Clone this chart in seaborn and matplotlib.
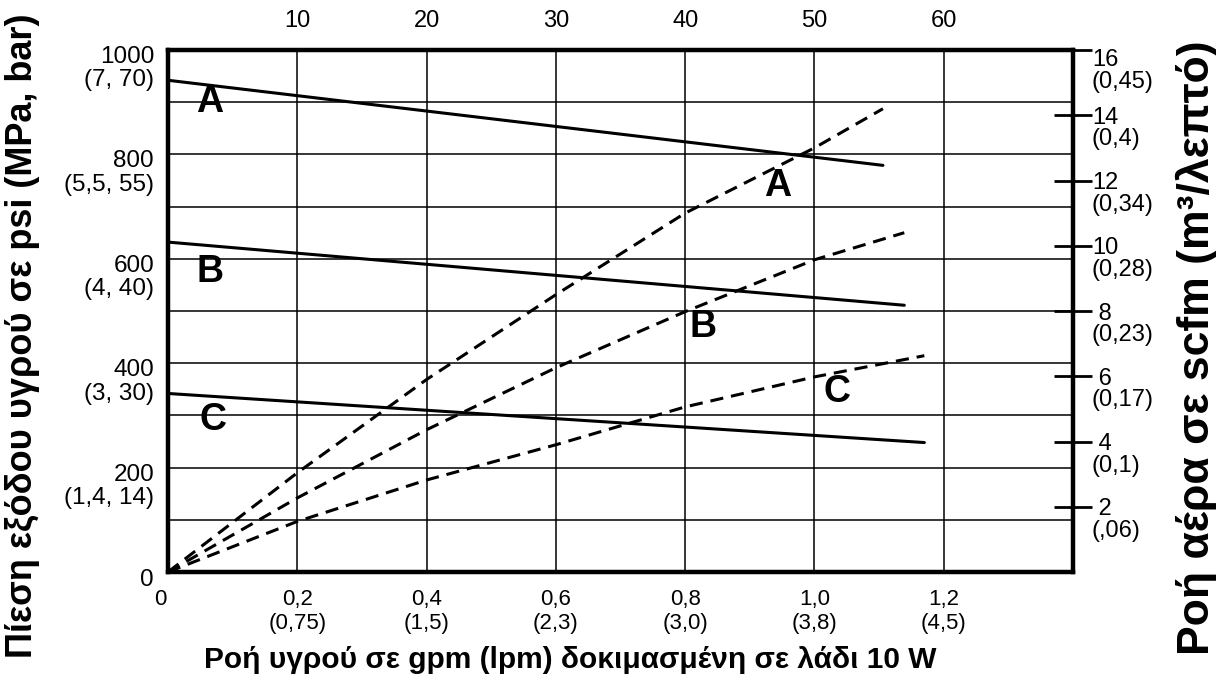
import matplotlib
matplotlib.use("Agg")
import matplotlib.pyplot as plt
import matplotlib.transforms as mtransforms
import seaborn as sns

# Fluid outlet pressure (psi) against fluid flow (gpm) -- solid lines
psi_gpm_A = [0.0, 1.106]
psi_A = [942, 779]
psi_gpm_B = [0.0, 1.139]
psi_B = [632, 511]
psi_gpm_C = [0.0, 1.170]
psi_C = [342, 248]

# Air consumption (scfm) against fluid flow (gpm) -- dashed lines
air_gpm_A = [0.0, 0.2, 0.4, 0.6, 0.8, 1.0, 1.106]
air_A = [0.0, 3.04, 5.9, 8.5, 11.0, 13.0, 14.2]
air_gpm_B = [0.0, 0.2, 0.4, 0.6, 0.8, 1.0, 1.139]
air_B = [0.0, 2.27, 4.36, 6.26, 7.98, 9.57, 10.4]
air_gpm_C = [0.0, 0.2, 0.4, 0.6, 0.8, 1.0, 1.170]
air_C = [0.0, 1.55, 2.82, 3.9, 5.06, 5.98, 6.63]

# Axis ticks and labels
gpm_ticks = [0, 0.2, 0.4, 0.6, 0.8, 1.0, 1.2]
gpm_labels = ["0", "0,2\n(0,75)", "0,4\n(1,5)", "0,6\n(2,3)", "0,8\n(3,0)",
              "1,0\n(3,8)", "1,2\n(4,5)"]
cycle_ticks = [10, 20, 30, 40, 50, 60]
psi_ticks = [0, 200, 400, 600, 800, 1000]
psi_labels = ["0", "200\n(1,4, 14)", "400\n(3, 30)", "600\n(4, 40)",
              "800\n(5,5, 55)", "1000\n(7, 70)"]
psi_minor = [100, 300, 500, 700, 900]
scfm_ticks = [2, 4, 6, 8, 10, 12, 14, 16]
scfm_labels = [" 2\n(,06)", " 4\n(0,1)", " 6\n(0,17)", " 8\n(0,23)",
               "10\n(0,28)", "12\n(0,34)", "14\n(0,4)", "16\n(0,45)"]

sns.set_theme(style="white")
plt.rcParams["font.family"] = ["Liberation Sans", "DejaVu Sans"]

W, H = 1216, 684
fig = plt.figure(figsize=(W / 100, H / 100), dpi=100)
ax = fig.add_axes([168 / W, 1 - 572 / H, (1073 - 168) / W, (572 - 50) / H])

ax.set_xlim(0, 1.4)
ax.set_ylim(0, 1000)
ax.set_axisbelow(True)
ax.set_xticks(gpm_ticks)
ax.set_yticks(psi_ticks)
ax.set_yticks(psi_minor, minor=True)
ax.grid(True, which="both", color="black", lw=1.1)

lw = 2.2
for gx, gy in [(psi_gpm_A, psi_A), (psi_gpm_B, psi_B), (psi_gpm_C, psi_C)]:
    sns.lineplot(x=gx, y=gy, ax=ax, color="black", lw=lw, zorder=3)

ax_r = ax.twinx()
ax_r.set_ylim(0, 16)
dash = (0, (4.3, 2.6))
for gx, gy in [(air_gpm_A, air_A), (air_gpm_B, air_B), (air_gpm_C, air_C)]:
    sns.lineplot(x=gx, y=gy, ax=ax_r, color="black", lw=lw, linestyle=dash, zorder=3)

ax_t = ax.twiny()
ax_t.set_xlim(0, 70)
ax_t.set_xticks(cycle_ticks)
ax_t.set_xticklabels([str(t) for t in cycle_ticks], fontsize=17)
ax_t.tick_params(axis="x", length=0, pad=13, colors="black")

for a in (ax, ax_r, ax_t):
    for s in a.spines.values():
        s.set_linewidth(3.0)
        s.set_color("black")

# bottom ticks
ax.set_xticklabels(gpm_labels, fontsize=16,
                   family=["Liberation Sans Narrow", "Liberation Sans"],
                   linespacing=1.23, va="top")
ax.tick_params(axis="x", length=0, pad=12, colors="black")

# left ticks
ax.set_yticklabels(psi_labels, fontsize=17.5, linespacing=1.08)
ax.tick_params(axis="y", which="both", length=0, pad=10, colors="black")

# right ticks
ax_r.set_yticks(scfm_ticks)
ax_r.set_yticklabels(scfm_labels, fontsize=17, linespacing=0.98)
ax_r.tick_params(axis="y", direction="inout", length=27, width=2.0, pad=0,
                 colors="black")


def shift(label, dx, dy):
    label.set_transform(label.get_transform() +
                        mtransforms.ScaledTranslation(dx, dy, fig.dpi_scale_trans))


# first line of each stacked tick label sits on its tick
for lab in ax.get_yticklabels():
    shift(lab, 0, -0.155 if "\n" in lab.get_text() else -0.06)
r_labels = ax_r.get_yticklabels()
for lab in r_labels:
    shift(lab, 0, -0.11)
shift(r_labels[-1], 0, -0.08)          # keep the top label clear of the frame
shift(ax.get_xticklabels()[0], -0.08, 0)

# curve letters
kw = dict(fontsize=27, fontweight="bold", ha="center", va="center", color="black")
ax.text(0.065, 900, "A", **kw)
ax.text(0.065, 575, "B", **kw)
ax.text(0.070, 291, "C", **kw)
ax.text(0.943, 739, "A", **kw)
ax.text(0.828, 469, "B", **kw)
ax.text(1.035, 345, "C", **kw)

ax.set_ylabel("Πίεση εξόδου υγρού σε psi (MPa, bar)", fontsize=26,
              fontweight="bold", color="black", va="center", ha="center")
ax.yaxis.set_label_coords(-0.1613, 0.452)
ax_r.set_ylabel("Ροή αέρα σε scfm (m³/λεπτό)", fontsize=32,
                fontweight="bold", color="black", rotation=90,
                va="center", ha="center")
ax_r.yaxis.set_label_coords(1.137, 0.429)
ax.set_xlabel("Ροή υγρού σε gpm (lpm) δοκιμασμένη σε λάδι 10 W", fontsize=21.5,
              fontweight="bold", color="black", va="center", ha="center")
ax.xaxis.set_label_coords(0.444, -0.1686)

fig.savefig("out.png", dpi=100, facecolor="white")
